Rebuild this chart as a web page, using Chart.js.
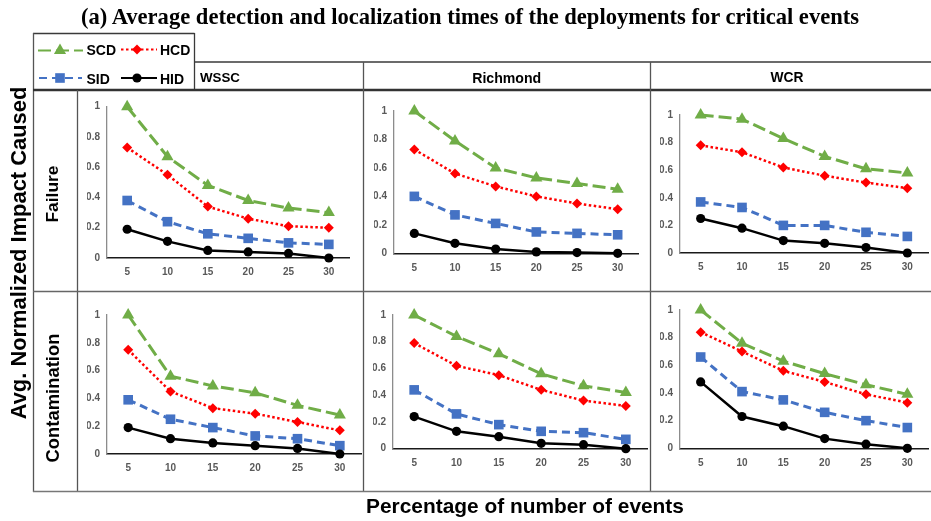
<!DOCTYPE html>
<html><head><meta charset="utf-8">
<script src="https://cdn.jsdelivr.net/npm/chart.js@4"></script>
<style>
html,body{margin:0;padding:0;background:#fff;}
#wrap{position:relative;width:931px;height:521px;overflow:hidden;background:#fff;}
canvas{position:absolute;}
.t{position:absolute;white-space:nowrap;line-height:1;color:#000;}
</style></head><body>
<div id="wrap"><canvas id="bg" width="931" height="521" style="left:0;top:0;width:931px;height:521px"></canvas></div>
<script>
// ---------- data ----------
const categories = ['5','10','15','20','25','30'];
const yTickLabels = ['0','0.2','0.4','0.6','0.8','1'];
const seriesNames = ['SCD','HCD','SID','HID'];
const deployments = ['WSSC','Richmond','WCR'];
const eventTypes = ['Failure','Contamination'];

// Failure
const scdFailureWSSC = [1.00,0.67,0.48,0.38,0.33,0.30];
const hcdFailureWSSC = [0.73,0.55,0.34,0.26,0.21,0.20];
const sidFailureWSSC = [0.38,0.24,0.16,0.13,0.10,0.09];
const hidFailureWSSC = [0.19,0.11,0.05,0.04,0.03,0.00];

const scdFailureRichmond = [1.00,0.79,0.60,0.53,0.49,0.45];
const hcdFailureRichmond = [0.73,0.56,0.47,0.40,0.35,0.31];
const sidFailureRichmond = [0.40,0.27,0.21,0.15,0.14,0.13];
const hidFailureRichmond = [0.14,0.07,0.03,0.01,0.005,0.00];

const scdFailureWCR = [1.00,0.97,0.83,0.70,0.61,0.58];
const hcdFailureWCR = [0.78,0.73,0.62,0.56,0.51,0.47];
const sidFailureWCR = [0.37,0.33,0.20,0.20,0.15,0.12];
const hidFailureWCR = [0.25,0.18,0.09,0.07,0.04,0.00];

// Contamination
const scdContamWSSC = [1.00,0.56,0.49,0.44,0.35,0.28];
const hcdContamWSSC = [0.75,0.45,0.33,0.29,0.23,0.17];
const sidContamWSSC = [0.39,0.25,0.19,0.13,0.11,0.06];
const hidContamWSSC = [0.19,0.11,0.08,0.06,0.04,0.00];

const scdContamRichmond = [1.00,0.84,0.71,0.56,0.47,0.42];
const hcdContamRichmond = [0.79,0.62,0.55,0.44,0.36,0.32];
const sidContamRichmond = [0.44,0.26,0.18,0.13,0.12,0.07];
const hidContamRichmond = [0.24,0.13,0.09,0.04,0.03,0.00];

const scdContamWCR = [1.00,0.76,0.63,0.54,0.46,0.39];
const hcdContamWCR = [0.84,0.70,0.56,0.48,0.39,0.33];
const sidContamWCR = [0.66,0.41,0.35,0.26,0.20,0.15];
const hidContamWCR = [0.48,0.23,0.16,0.07,0.03,0.00];

const panelSeries = [
  [scdFailureWSSC, hcdFailureWSSC, sidFailureWSSC, hidFailureWSSC],
  [scdFailureRichmond, hcdFailureRichmond, sidFailureRichmond, hidFailureRichmond],
  [scdFailureWCR, hcdFailureWCR, sidFailureWCR, hidFailureWCR],
  [scdContamWSSC, hcdContamWSSC, sidContamWSSC, hidContamWSSC],
  [scdContamRichmond, hcdContamRichmond, sidContamRichmond, hidContamRichmond],
  [scdContamWCR, hcdContamWCR, sidContamWCR, hidContamWCR]
];

// ---------- layout (positions / styles) ----------
const cells = [ // [left, top, right, bottom]
  [78,91,363,291],[364,91,650,291],[651,91,931,291],
  [78,293,363,491],[364,293,650,491],[651,293,931,491]
];
const plotAreas = [ // [axisLeft, axisRight, yAt1, yAt0]
  [107,349,106.7,258],[394,638,111,253.3],[680,928,115,253],
  [107,361,315,454],[393,647,315,448.7],[680,928,310,448.3]
];
const styles = [
  {color:'#70AD47', width:3,   dash:[13,5], point:'triangle', r:7},
  {color:'#FF0000', width:2.5, dash:[2.5,2.5], point:'rectRot', r:5},
  {color:'#4472C4', width:3,   dash:[8,5], point:'rect', r:6.8},
  {color:'#000000', width:2.5, dash:[],    point:'circle', r:4.6}
];
const Y_W = 20, X_H = 26;
const tickFont = {family:'"Liberation Sans", Arial, sans-serif', size:10, weight:'bold'};

const wrap = document.getElementById('wrap');

// ---------- background: table lines + legend samples ----------
const bg = document.getElementById('bg').getContext('2d');
function line(x1,y1,x2,y2,w,c){bg.save();bg.strokeStyle=c;bg.lineWidth=w;bg.setLineDash([]);bg.beginPath();bg.moveTo(x1,y1);bg.lineTo(x2,y2);bg.stroke();bg.restore();}
line(33,33.5,194.5,33.5,1.3,'#3a3a3a');
line(33.5,33,33.5,492,1.3,'#555');
line(194.5,33,194.5,90,1.3,'#3a3a3a');
line(194,62,931,62,1.6,'#3a3a3a');
line(33,90,931,90,2.4,'#333');
line(77.5,90,77.5,492,1.3,'#555');
line(363.5,62,363.5,492,1.3,'#555');
line(650.5,62,650.5,492,1.3,'#555');
line(33,291.5,931,291.5,1.3,'#666');
line(33,491.5,931,491.5,1.5,'#777');

function marker(type,x,y,r,c){
  bg.save();bg.fillStyle=c;bg.beginPath();
  if(type==='triangle'){bg.moveTo(x,y-r);bg.lineTo(x+r*0.866,y+r*0.5);bg.lineTo(x-r*0.866,y+r*0.5);bg.closePath();}
  else if(type==='rectRot'){bg.moveTo(x,y-r);bg.lineTo(x+r,y);bg.lineTo(x,y+r);bg.lineTo(x-r,y);bg.closePath();}
  else if(type==='rect'){const s=r*Math.SQRT1_2;bg.rect(x-s,y-s,2*s,2*s);}
  else {bg.arc(x,y,r,0,Math.PI*2);}
  bg.fill();bg.restore();
}
function sample(i,x1,x2,mx,y){
  const s=styles[i];
  bg.save();bg.strokeStyle=s.color;bg.lineWidth=Math.min(s.width,2.2);bg.setLineDash(s.dash);
  bg.beginPath();bg.moveTo(x1,y);bg.lineTo(x2,y);bg.stroke();bg.restore();
  marker(s.point,mx,y,s.r,s.color);
}
const legRows=[49.5,78];
sample(0,38,83,60,legRows[0]+1);
sample(1,121,157,137,legRows[0]);
sample(2,39,82,60,legRows[1]);
sample(3,121,157,137,legRows[1]);

// ---------- text helpers ----------
const mctx = document.createElement('canvas').getContext('2d');
function place(o){
  const fam=o.family||'"Liberation Sans", Arial, sans-serif';
  const wt=o.weight||'bold';
  let size=o.size||14;
  if(o.width){mctx.font=`${wt} 100px ${fam}`;size=100*o.width/mctx.measureText(o.text).width;}
  const d=document.createElement('div');d.className='t';d.textContent=o.text;
  d.style.fontFamily=fam;d.style.fontWeight=wt;d.style.fontSize=size+'px';
  if(o.color)d.style.color=o.color;
  if(o.rotate){d.style.left=o.cx+'px';d.style.top=o.cy+'px';d.style.transform='translate(-50%,-50%) rotate(-90deg)';}
  else if(o.cx!==undefined){d.style.left=o.cx+'px';d.style.top=o.cy+'px';d.style.transform='translate(-50%,-50%)';}
  else {d.style.left=o.x+'px';d.style.top=o.cy+'px';d.style.transform='translate(0,-50%)';}
  wrap.appendChild(d);
}
place({text:'(a) Average detection and localization times of the deployments for critical events',family:'"Liberation Serif", "Times New Roman", serif',cx:470,cy:17,width:780});
place({text:seriesNames[0],x:86.5,cy:legRows[0]+0.5,size:14});
place({text:seriesNames[1],x:160,cy:legRows[0]+0.5,size:14});
place({text:seriesNames[2],x:86.5,cy:legRows[1]+0.5,size:14});
place({text:seriesNames[3],x:160,cy:legRows[1]+0.5,size:14});
place({text:deployments[0],x:200,cy:77.5,width:40});
place({text:deployments[1],cx:506.7,cy:77.5,width:69});
place({text:deployments[2],cx:787,cy:77.5,width:33});
place({text:'Avg. Normalized Impact Caused',rotate:true,cx:19,cy:253,width:333});
place({text:eventTypes[0],rotate:true,cx:53,cy:194,width:57});
place({text:eventTypes[1],rotate:true,cx:53,cy:398,width:129});
place({text:'Percentage of number of events',cx:525,cy:506,width:318});

// ---------- charts ----------
panelSeries.forEach((series,pi)=>{
  const [cl,ct,cr,cb]=cells[pi];
  const [xl,xr,yt,yb]=plotAreas[pi];
  const w=cr-cl,h=cb-ct;
  const cv=document.createElement('canvas');
  cv.width=w;cv.height=h;cv.style.left=cl+'px';cv.style.top=ct+'px';cv.style.width=w+'px';cv.style.height=h+'px';
  wrap.appendChild(cv);
  new Chart(cv,{
    type:'line',
    data:{labels:categories,datasets:series.map((vals,si)=>({
      label:seriesNames[si],data:vals,
      borderColor:styles[si].color,backgroundColor:styles[si].color,
      borderWidth:styles[si].width,borderDash:styles[si].dash,
      pointStyle:styles[si].point,pointRadius:styles[si].r,pointBorderWidth:0,
      pointBackgroundColor:styles[si].color,tension:0,clip:false,fill:false
    })).reverse()},
    options:{
      responsive:false,animation:false,devicePixelRatio:1,
      layout:{autoPadding:false,padding:{left:xl-cl-Y_W,right:cr-xr,top:yt-ct,bottom:cb-yb-X_H}},
      plugins:{legend:{display:false},title:{display:false},tooltip:{enabled:false}},
      events:[],
      scales:{
        x:{type:'category',offset:true,
          grid:{display:false,drawTicks:false},
          border:{display:true,color:'#1a1a1a',width:1.6},
          ticks:{color:'#595959',font:tickFont,padding:8.5,maxRotation:0,autoSkip:false},
          afterFit:s=>{s.height=X_H;}},
        y:{min:0,max:1,
          grid:{display:false,drawTicks:false},
          border:{display:true,color:'#8c8c8c',width:1.3},
          ticks:{stepSize:0.2,color:'#595959',font:tickFont,padding:7,
            callback:v=>yTickLabels[Math.round(v*5)]},
          afterFit:s=>{s.width=Y_W;}}
      }
    }
  });
});
</script>
</body></html>
